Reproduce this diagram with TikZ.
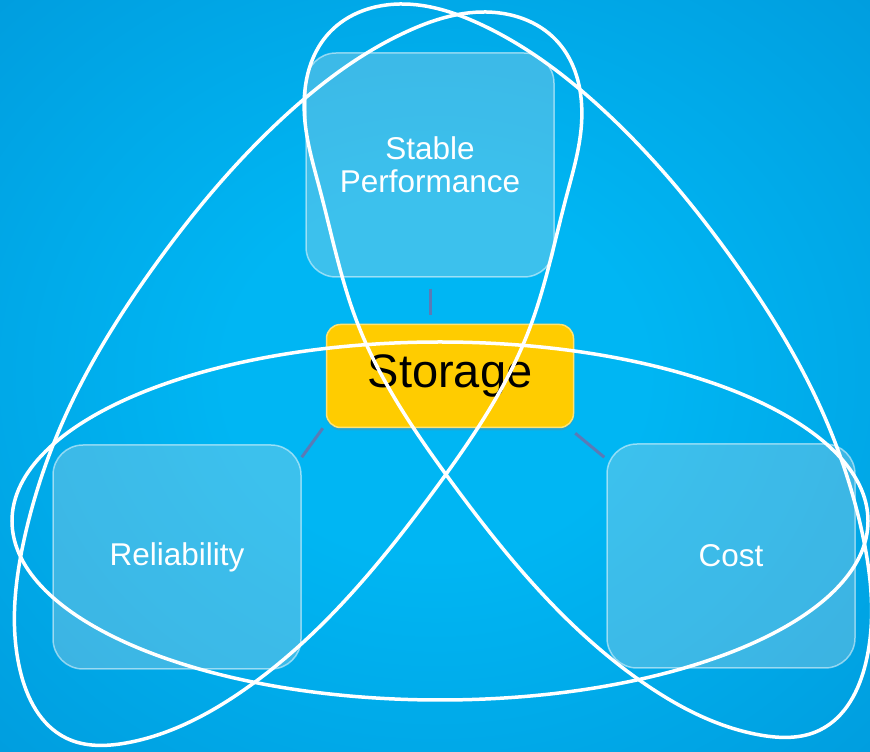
\documentclass[tikz,border=0pt]{standalone}
\usepackage{fontspec}
\setmainfont{Liberation Sans}
\usetikzlibrary{shadows,hobby}

\definecolor{bgcenter}{RGB}{0,182,243}
\definecolor{bgedge}{RGB}{0,118,190}
\definecolor{storagegold}{RGB}{255,204,0}
\definecolor{linkblue}{RGB}{90,122,182}

% Backdrop: bright in the middle, darker towards the corners
\pgfdeclareradialshading{backdrop}{\pgfpoint{0bp}{0bp}}{%
  color(0bp)=(bgcenter); color(12bp)=(bgcenter); color(74bp)=(bgedge)}

\begin{document}
\begin{tikzpicture}[x=1pt, y=1pt,
    facet/.style={draw=white, draw opacity=0.5, line width=1.5pt,
        fill=white!88!black, fill opacity=0.27, text opacity=1, text=white,
        rounded corners=30pt, minimum width=248pt, minimum height=224pt,
        inner sep=0pt, align=center, font=\fontsize{31.5}{33}\selectfont},
    core/.style={draw=storagegold!55!white, line width=1.5pt, fill=storagegold,
        rounded corners=14pt, minimum width=247pt, minimum height=103pt,
        inner sep=0pt, font=\fontsize{47}{50}\selectfont,
        drop shadow={shadow xshift=0pt, shadow yshift=-3pt, opacity=0.3}},
    link/.style={draw=linkblue, line width=3pt},
    ring/.style={draw=white, line width=3.5pt},
    orbit/.pic={
        \draw[ring, use Hobby shortcut, closed=true]
            (305,630) .. (330,720) .. (400,748) .. (480,728) .. (600,645)
            .. (733,492) .. (817,352) .. (862,220) .. (866,90) .. (820,22)
            .. (760,17) .. (645,68) .. (450,272) .. (357,430) .. (320,562);
    }]
    % Define the canvas
    \def\canvasw{870}
    \def\canvash{752}
    \useasboundingbox (0,0) rectangle (\canvasw,\canvash);
    \shade[shading=backdrop] (0,0) rectangle (\canvasw,\canvash);
    \clip (0,0) rectangle (\canvasw,\canvash);

    % The three qualities and the centre
    \node[facet] (stable) at (430,587) {Stable\\Performance};
    \node[facet] (reliability) at (177,195) {Reliability};
    \node[facet] (cost) at (731,196) {Cost};
    \node[core] (storage) at (450,376) {Storage};

    % Short links towards the centre
    \draw[link] ([yshift=-11pt]stable.south) -- ([yshift=9pt]stable.south |- storage.north);
    \draw[link] ([xshift=-3pt]storage.south west) -- ([yshift=-13pt]reliability.north east);
    \draw[link] ([xshift=1pt,yshift=-5pt]storage.south east) -- ([xshift=-2pt,yshift=-14pt]cost.north west);

    % Loops on top of everything
    \draw[ring] (440,231) ellipse [x radius=428pt, y radius=179pt];
    \pic at (0,0) {orbit};
    \pic[xscale=-1] at (886,-8) {orbit};
\end{tikzpicture}
\end{document}
